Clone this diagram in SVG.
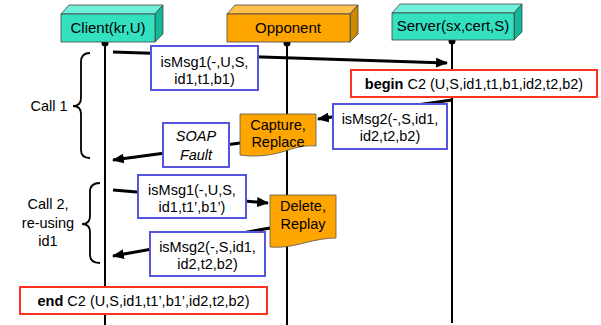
<svg xmlns="http://www.w3.org/2000/svg" width="601" height="325" viewBox="0 0 601 325">
<style>
text{font-family:"Liberation Sans",Arial,sans-serif;font-size:14.5px;fill:#000}
.hd{font-size:15px}
.life{stroke:#000;stroke-width:2;fill:none}
.msg{fill:#fff;stroke:#5555dd;stroke-width:2}
.evt{fill:#fff;stroke:#ff3322;stroke-width:2}
.act{fill:#ffa500;stroke:#555;stroke-width:0.8}
.arr{stroke:#000;stroke-width:3;fill:none;marker-end:url(#ah)}
.brace{stroke:#000;stroke-width:1.8;fill:none}
.edge{stroke:#444;stroke-width:0.8}
</style>
<defs>
<marker id="ah" markerUnits="userSpaceOnUse" markerWidth="12" markerHeight="10" refX="11" refY="5" orient="auto">
<path d="M0,0 L12,5 L0,10 z" fill="#000"/>
</marker>
</defs>
<rect width="601" height="325" fill="#fff"/>

<g id="lifelines">
<line class="life" x1="105" y1="43" x2="105" y2="325"/>
<line class="life" x1="287" y1="43" x2="287" y2="325"/>
<line class="life" x1="452" y1="41" x2="452" y2="323"/>
<circle cx="105" cy="43" r="3.5"/>
<circle cx="287" cy="43" r="3.5"/>
<circle cx="452" cy="41" r="3.5"/>
</g>

<g id="client">
<polygon class="edge" points="61,14 69,5 163,5 155,14" fill="#70f0d8"/>
<polygon class="edge" points="155,14 163,5 163,34 155,42" fill="#10b898"/>
<rect class="edge" x="61" y="14" width="94" height="28" fill="#33e0c0"/>
<text class="hd" x="108" y="33" text-anchor="middle">Client(kr,U)</text>
</g>

<g id="opponent">
<polygon class="edge" points="227,14 235,5 358,5 350,14" fill="#ffc04d"/>
<polygon class="edge" points="350,14 358,5 358,34 350,42" fill="#d08800"/>
<rect class="edge" x="227" y="14" width="123" height="28" fill="#ffa500"/>
<text class="hd" x="288" y="33" text-anchor="middle">Opponent</text>
</g>

<g id="server">
<polygon class="edge" points="392,13 400,4 522,4 514,13" fill="#70f0d8"/>
<polygon class="edge" points="514,13 522,4 522,32 514,40" fill="#10b898"/>
<rect class="edge" x="392" y="13" width="122" height="27" fill="#33e0c0"/>
<text class="hd" x="453" y="31" text-anchor="middle">Server(sx,cert,S)</text>
</g>

<g id="connectors">
<line class="arr" x1="113" y1="52" x2="447" y2="63"/>
<line class="arr" x1="452" y1="100" x2="318" y2="119"/>
<line class="arr" x1="240" y1="143" x2="113" y2="160"/>
<line class="arr" x1="113" y1="190" x2="268" y2="203"/>
<line class="arr" x1="270" y1="228" x2="113" y2="256"/>
</g>

<g id="braces">
<path class="brace" d="M90,53 Q81,53 81,62 L81,98 Q81,106 73,106 Q81,106 81,114 L81,150 Q81,158 90,158"/>
<path class="brace" d="M100,183 Q90,183 90,192 L90,216 Q90,224 82,224 Q90,224 90,232 L90,255 Q90,263 100,263"/>
<text x="49" y="111" text-anchor="middle">Call 1</text>
<text x="48" y="209" text-anchor="middle">Call 2,</text>
<text x="48" y="228" text-anchor="middle">re-using</text>
<text x="48" y="246" text-anchor="middle">id1</text>
</g>

<g id="msg1">
<rect class="msg" x="151" y="46" width="107" height="44"/>
<text x="204.5" y="67" text-anchor="middle">isMsg1(-,U,S,</text>
<text x="204.5" y="84" text-anchor="middle">id1,t1,b1)</text>
</g>

<g id="begin">
<rect class="evt" x="351" y="70" width="246" height="27"/>
<text x="474" y="89" text-anchor="middle"><tspan font-weight="bold">begin</tspan> C2 (U,S,id1,t1,b1,id2,t2,b2)</text>
</g>

<g id="msg2a">
<rect class="msg" x="333" y="104" width="114" height="45"/>
<text x="390" y="124" text-anchor="middle">isMsg2(-,S,id1,</text>
<text x="390" y="141" text-anchor="middle">id2,t2,b2)</text>
</g>

<g id="capture">
<path class="act" d="M240,114 H316 V146 C304,145 294,148 282,152 C268,156 254,157 240,155 Z"/>
<text x="278" y="130" text-anchor="middle">Capture,</text>
<text x="278" y="147" text-anchor="middle">Replace</text>
</g>

<g id="soapfault">
<rect class="msg" x="163" y="123" width="66" height="44"/>
<text x="196" y="141" text-anchor="middle" font-style="italic">SOAP</text>
<text x="196" y="160" text-anchor="middle" font-style="italic">Fault</text>
</g>

<g id="msg1b">
<rect class="msg" x="138" y="175" width="108" height="43"/>
<text x="192" y="195" text-anchor="middle">isMsg1(-,U,S,</text>
<text x="192" y="212" text-anchor="middle">id1,t1’,b1’)</text>
</g>

<g id="delete">
<path class="act" d="M270,195 H336 V238 C326,238 316,240 304,243 C292,246 282,248 270,247 Z"/>
<text x="303" y="211" text-anchor="middle">Delete,</text>
<text x="303" y="229" text-anchor="middle">Replay</text>
</g>

<g id="msg2b">
<rect class="msg" x="150" y="232" width="115" height="44"/>
<text x="207.5" y="252" text-anchor="middle">isMsg2(-,S,id1,</text>
<text x="207.5" y="269" text-anchor="middle">id2,t2,b2)</text>
</g>

<g id="end">
<rect class="evt" x="20" y="287" width="247" height="27"/>
<text x="143.5" y="306" text-anchor="middle"><tspan font-weight="bold">end</tspan> C2 (U,S,id1,t1’,b1’,id2,t2,b2)</text>
</g>
</svg>
